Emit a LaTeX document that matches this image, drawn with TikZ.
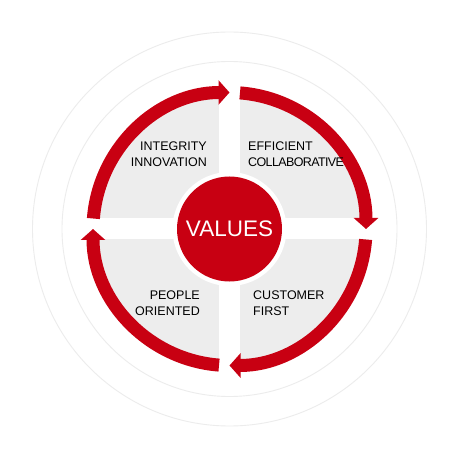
\documentclass[tikz,border=0pt]{standalone}
\usepackage{fontspec}
\setmainfont{Liberation Sans}
\usetikzlibrary{arrows.meta}

\definecolor{valred}{RGB}{200,0,18}
\definecolor{quadgray}{RGB}{237,237,237}
\definecolor{halogray}{RGB}{236,236,236}

\tikzset{
	cycarrow/.style={draw=valred, line width=13pt, -{Triangle[width=24pt,length=11pt]}},
	halo/.style={draw=halogray, line width=0.9pt},
	quadtext/.style={inner sep=0pt, text=black, font=\fontsize{12.5}{16}\selectfont}
}

\begin{document}
\begin{tikzpicture}[x=1pt,y=1pt]
	\useasboundingbox (-229.5,-231) rectangle (230.5,229);
	\fill[white] (-229.5,-231) rectangle (230.5,229);
	% faint outer rings
	\draw[halo] (0,0) circle (197);
	\draw[halo] (0,0) circle (167.5);
	% grey disk and white cross
	\fill[quadgray] (0,0) circle (140);
	\fill[white] (-150,-10.5) rectangle (150,10.5);
	\fill[white] (-10.5,-150) rectangle (10.5,150);
	% cycle arrows
	\draw[cycarrow] (175.6:136.5) arc[start angle=175.6, end angle=90, radius=136.5];
	\draw[cycarrow] (85.6:136.5) arc[start angle=85.6, end angle=0, radius=136.5];
	\draw[cycarrow] (-4.4:136.5) arc[start angle=-4.4, end angle=-90, radius=136.5];
	\draw[cycarrow] (-94.4:136.5) arc[start angle=-94.4, end angle=-180, radius=136.5];
	% centre
	\fill[white] (0,0) circle (57);
	\node[circle, fill=valred, minimum size=105pt, inner sep=0pt, text=white,
		font=\fontsize{22.5}{26}\selectfont] (values) at (0,0) {VALUES};
	% quadrant labels
	\node[quadtext, align=right, anchor=north east] (integrity) at (-22.5,87.3) {INTEGRITY\\INNOVATION};
	\node[quadtext, align=left, anchor=north west] (efficient) at (18.5,87.3) {EFFICIENT\\{\addfontfeature{LetterSpace=-5}COLLABORATIVE}};
	\node[quadtext, align=right, anchor=north east] (people) at (-29.5,-62) {PEOPLE\\ORIENTED};
	\node[quadtext, align=left, anchor=north west] (customer) at (23.5,-62) {CUSTOMER\\FIRST};
\end{tikzpicture}
\end{document}
